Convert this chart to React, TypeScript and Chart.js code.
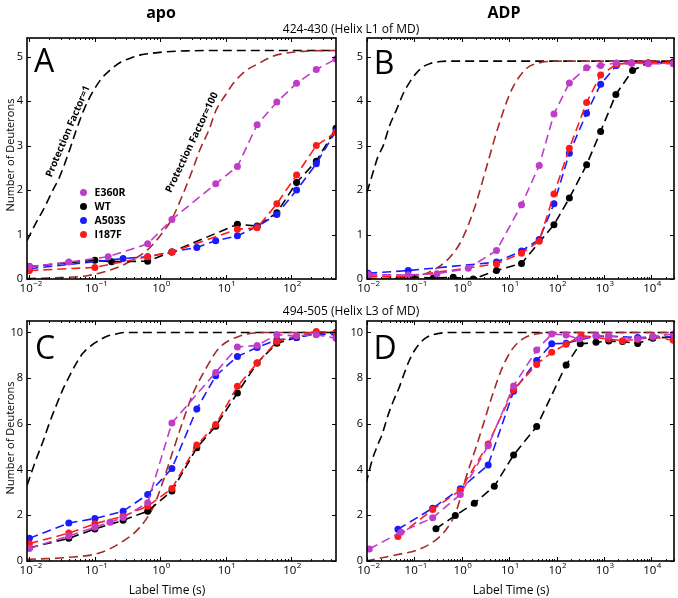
import React, { useEffect, useRef } from 'react';
import { Chart, registerables } from 'chart.js';
Chart.register(...registerables);

const W = 678;
const H = 598;
const FONT = "'Open Sans', 'DejaVu Sans', sans-serif";

type Pt = [number, number];

// ---------- colours ----------
const COL_E360R = '#c03cc8';
const COL_WT = '#000000';
const COL_A503S = '#1a1aff';
const COL_I187F = '#ff1a1a';
const COL_PF1 = '#000000';
const COL_PF100 = '#a52a2a';

// ---------- tick labels ----------
const APO_X_EXPONENTS = [-2, -1, 0, 1, 2];
const ADP_X_EXPONENTS = [-2, -1, 0, 1, 2, 3, 4];
const L1_Y_TICKS = [0, 1, 2, 3, 4, 5];
const L3_Y_TICKS = [0, 2, 4, 6, 8, 10];
const LEGEND_NAMES = ['E360R', 'WT', 'A503S', 'I187F'];

// ---------- Panel A : 424-430 apo ----------
const A_PF1: Pt[] = [[0.0092, 0.86], [0.0125, 1.25], [0.0162, 1.55], [0.022, 1.95], [0.029, 2.3], [0.04, 2.85], [0.052, 3.35], [0.07, 3.85], [0.093, 4.21], [0.125, 4.5], [0.168, 4.69], [0.25, 4.88], [0.34, 4.96], [0.5, 5.04], [0.77, 5.08], [1.2, 5.11], [2.5, 5.13], [10, 5.14], [480, 5.14]];
const A_PF100: Pt[] = [[0.0092, 0.01], [0.03, 0.03], [0.08, 0.08], [0.17, 0.2], [0.3, 0.35], [0.64, 0.66], [1, 0.98], [1.5, 1.35], [2.2, 1.9], [3, 2.4], [4, 2.9], [5.5, 3.35], [7, 3.78], [10, 4.15], [13, 4.4], [20, 4.68], [32, 4.85], [50, 5.0], [75, 5.07], [150, 5.12], [480, 5.14]];
const A_E360R: Pt[] = [[0.01, 0.28], [0.04, 0.38], [0.16, 0.5], [0.64, 0.79], [1.5, 1.34], [7, 2.14], [15, 2.53], [30, 3.47], [60, 3.98], [120, 4.4], [240, 4.71], [480, 4.95]];
const A_WT: Pt[] = [[0.01, 0.28], [0.1, 0.42], [0.18, 0.39], [0.64, 0.4], [1.5, 0.61], [15, 1.23], [30, 1.19], [60, 1.49], [120, 2.17], [240, 2.65], [480, 3.39]];
const A_A503S: Pt[] = [[0.01, 0.23], [0.27, 0.46], [0.64, 0.5], [1.5, 0.61], [3.6, 0.71], [7, 0.86], [15, 0.97], [30, 1.18], [60, 1.45], [120, 2.0], [240, 2.59], [480, 3.33]];
const A_I187F: Pt[] = [[0.01, 0.19], [0.1, 0.26], [0.64, 0.5], [1.5, 0.61], [15, 1.12], [30, 1.15], [60, 1.69], [120, 2.34], [240, 3.0], [480, 3.3]];

// ---------- Panel B : 424-430 ADP ----------
const B_PF1: Pt[] = [[0.01, 1.95], [0.013, 2.35], [0.017, 2.75], [0.022, 3.0], [0.03, 3.45], [0.042, 3.81], [0.06, 4.2], [0.081, 4.44], [0.11, 4.63], [0.155, 4.78], [0.22, 4.85], [0.35, 4.89], [0.6, 4.9], [30000, 4.9]];
const B_PF100: Pt[] = [[0.01, 0.0], [0.08, 0.04], [0.21, 0.16], [0.41, 0.35], [0.66, 0.58], [1.0, 0.88], [1.9, 1.63], [3.35, 2.53], [5.9, 3.43], [11.3, 4.26], [23.4, 4.74], [40, 4.85], [62, 4.89], [150, 4.9], [30000, 4.9]];
const B_E360R: Pt[] = [[0.0106, 0.1], [0.074, 0.09], [0.3, 0.12], [1.37, 0.24], [5.4, 0.64], [18.2, 1.67], [43, 2.55], [88, 3.71], [186, 4.41], [430, 4.75], [850, 4.8], [1830, 4.86], [3830, 4.86], [8600, 4.84], [29000, 4.84]];
const B_WT: Pt[] = [[0.0106, 0.06], [0.074, 0.05], [0.25, 0.02], [0.66, 0.04], [1.74, 0.0], [5.4, 0.19], [18.2, 0.35], [88, 1.22], [186, 1.82], [430, 2.57], [850, 3.32], [1780, 4.15], [4000, 4.69], [8600, 4.86], [29000, 4.88]];
const B_A503S: Pt[] = [[0.0106, 0.13], [0.074, 0.19], [5.4, 0.38], [18.2, 0.63], [43, 0.89], [88, 1.69], [186, 2.83], [430, 3.73], [850, 4.38], [1830, 4.8], [3830, 4.86], [8600, 4.86], [29000, 4.86]];
const B_I187F: Pt[] = [[0.0106, 0.06], [0.074, 0.06], [5.4, 0.34], [18.2, 0.58], [43, 0.85], [88, 1.91], [186, 2.94], [430, 3.97], [850, 4.59], [1830, 4.83], [3830, 4.86], [8600, 4.86], [29000, 4.86]];

// ---------- Panel C : 494-505 apo ----------
const C_PF1: Pt[] = [[0.0092, 3.3], [0.0125, 4.4], [0.0162, 5.24], [0.02, 6.0], [0.026, 6.84], [0.033, 7.55], [0.042, 8.15], [0.052, 8.65], [0.066, 9.1], [0.09, 9.45], [0.12, 9.68], [0.16, 9.85], [0.21, 9.93], [0.3, 10.0], [480, 10.0]];
const C_PF100: Pt[] = [[0.0092, 0.07], [0.036, 0.15], [0.12, 0.36], [0.27, 0.87], [0.48, 1.46], [0.77, 2.33], [1.1, 3.49], [1.55, 4.8], [2.2, 6.1], [3.1, 7.28], [5, 8.44], [7.9, 9.32], [16, 9.83], [40, 10.0], [480, 10.0]];
const C_E360R: Pt[] = [[0.01, 0.55], [0.04, 1.09], [0.1, 1.48], [0.17, 1.7], [0.27, 1.9], [0.64, 2.55], [1.5, 6.04], [7, 8.25], [15, 9.36], [30, 9.43], [60, 9.9], [120, 9.85], [240, 9.9], [480, 9.75]];
const C_WT: Pt[] = [[0.01, 0.58], [0.04, 0.99], [0.1, 1.4], [0.27, 1.78], [0.64, 2.18], [1.5, 3.06], [3.6, 4.95], [7, 5.9], [15, 7.35], [30, 8.66], [60, 9.53], [120, 9.78], [240, 9.97], [480, 10.0]];
const C_A503S: Pt[] = [[0.01, 0.99], [0.04, 1.66], [0.1, 1.86], [0.27, 2.18], [0.64, 2.91], [1.5, 4.05], [3.6, 6.65], [7, 8.1], [15, 8.95], [30, 9.34], [60, 9.67], [120, 9.78], [240, 9.93], [480, 9.9]];
const C_I187F: Pt[] = [[0.01, 0.76], [0.04, 1.22], [0.1, 1.63], [0.27, 1.96], [0.64, 2.4], [1.5, 3.17], [3.6, 5.07], [7, 5.97], [15, 7.64], [30, 8.66], [60, 9.6], [120, 9.85], [240, 10.04], [480, 10.0]];

// ---------- Panel D : 494-505 ADP ----------
const D_PF1: Pt[] = [[0.0095, 3.37], [0.013, 4.45], [0.017, 5.1], [0.021, 5.56], [0.028, 6.4], [0.036, 7.0], [0.048, 7.6], [0.062, 8.25], [0.078, 8.77], [0.1, 9.2], [0.127, 9.5], [0.18, 9.78], [0.243, 9.9], [0.4, 9.98], [0.8, 10.0], [30000, 10.0]];
const D_PF100: Pt[] = [[0.0095, 0.0], [0.049, 0.3], [0.108, 0.46], [0.243, 0.82], [0.46, 1.36], [0.75, 2.13], [1.23, 3.66], [2.0, 4.98], [3.0, 6.14], [4.5, 7.31], [7.2, 8.47], [11.7, 9.28], [21, 9.76], [37, 9.93], [70, 10.0], [30000, 10.0]];
const D_E360R: Pt[] = [[0.0112, 0.53], [0.052, 1.26], [0.243, 1.89], [0.93, 2.91], [3.6, 5.04], [12.4, 7.66], [38, 9.23], [79, 9.93], [159, 9.89], [300, 9.71], [680, 9.86], [1260, 9.84], [5140, 9.71], [10700, 9.83], [29000, 9.93]];
const D_WT: Pt[] = [[0.285, 1.41], [0.73, 1.99], [1.84, 2.53], [4.85, 3.27], [12.4, 4.64], [38, 5.88], [159, 8.58], [316, 9.5], [680, 9.57], [1260, 9.62], [2460, 9.6], [5140, 9.52], [10700, 9.75], [29000, 9.8]];
const D_A503S: Pt[] = [[0.045, 1.39], [0.243, 2.31], [0.93, 3.16], [3.6, 4.2], [12.4, 7.43], [38, 8.77], [79, 9.5], [159, 9.53], [680, 9.84], [1260, 9.84], [5140, 9.78], [10700, 9.8], [29000, 9.8]];
const D_I187F: Pt[] = [[0.045, 1.07], [0.243, 2.25], [0.93, 3.1], [3.6, 5.12], [12.4, 7.5], [38, 8.6], [79, 9.13], [159, 9.48], [330, 9.86], [1260, 9.71], [2460, 9.64], [5140, 9.7], [10700, 9.8], [29000, 9.66]];

// ---------- helpers ----------
const DASH = [9, 5];
const toXY = (pts: Pt[]) => pts.map(([x, y]) => ({ x, y }));

function curveDs(pts: Pt[], color: string) {
  return {
    data: toXY(pts),
    borderColor: color,
    borderWidth: 1.6,
    borderDash: DASH,
    pointRadius: 0,
    cubicInterpolationMode: 'monotone',
    fill: false,
  };
}

function seriesDs(pts: Pt[], color: string) {
  return {
    data: toXY(pts),
    borderColor: color,
    backgroundColor: color,
    borderWidth: 1.6,
    borderDash: DASH,
    pointRadius: 3.5,
    pointBorderWidth: 0,
    pointBackgroundColor: color,
    tension: 0,
    fill: false,
  };
}

const axesPlugin = {
  id: 'mplAxes',
  afterDatasetsDraw(chart: any) {
    const o = chart.options.plugins.mplAxes;
    const { ctx, chartArea: a } = chart;
    const xs = chart.scales.x;
    const ys = chart.scales.y;
    ctx.save();
    ctx.strokeStyle = '#000';
    ctx.fillStyle = '#000';
    ctx.lineWidth = 1;
    const e0 = Math.floor(Math.log10(xs.min));
    const e1 = Math.ceil(Math.log10(xs.max));
    for (let e = e0; e <= e1; e++) {
      for (let m = 1; m < 10; m++) {
        const v = m * Math.pow(10, e);
        if (v < xs.min || v > xs.max) continue;
        const px = Math.round(xs.getPixelForValue(v)) + 0.5;
        const len = m === 1 ? 4 : 2;
        ctx.beginPath();
        ctx.moveTo(px, a.bottom);
        ctx.lineTo(px, a.bottom - len);
        ctx.moveTo(px, a.top);
        ctx.lineTo(px, a.top + len);
        ctx.stroke();
      }
    }
    for (const v of o.yTicks) {
      const py = Math.round(ys.getPixelForValue(v)) + 0.5;
      ctx.beginPath();
      ctx.moveTo(a.left, py);
      ctx.lineTo(a.left + 4, py);
      ctx.moveTo(a.right, py);
      ctx.lineTo(a.right - 4, py);
      ctx.stroke();
    }
    ctx.lineWidth = 1.6;
    ctx.strokeRect(a.left, a.top, a.right - a.left, a.bottom - a.top);
    ctx.font = `11px ${FONT}`;
    ctx.textAlign = 'right';
    ctx.textBaseline = 'middle';
    for (const v of o.yTicks) {
      ctx.fillText(String(v), a.left - 4, ys.getPixelForValue(v));
    }
    ctx.textAlign = 'left';
    ctx.textBaseline = 'alphabetic';
    for (const e of o.xExps) {
      const px = xs.getPixelForValue(Math.pow(10, e));
      const es = e < 0 ? '\u2212' + String(-e) : String(e);
      ctx.font = `11.5px ${FONT}`;
      const w1 = ctx.measureText('10').width;
      ctx.font = `8px ${FONT}`;
      const w2 = ctx.measureText(es).width;
      const start = px - w1 / 2 - w2 * 0.35;
      ctx.font = `11.5px ${FONT}`;
      ctx.fillText('10', start, a.bottom + 13);
      ctx.font = `8px ${FONT}`;
      ctx.fillText(es, start + w1 + 0.5, a.bottom + 7);
    }
    ctx.restore();
  },
};

type PanelCfg = {
  area: [number, number, number, number];
  xMin: number;
  xMax: number;
  yMin: number;
  yMax: number;
  xExps: number[];
  yTicks: number[];
  pf1: Pt[];
  pf100: Pt[];
  e360r: Pt[];
  wt: Pt[];
  a503s: Pt[];
  i187f: Pt[];
};

const PANELS: PanelCfg[] = [
  { area: [27, 38, 336, 279], xMin: 0.0092, xMax: 480, yMin: 0, yMax: 5.42, xExps: APO_X_EXPONENTS, yTicks: L1_Y_TICKS, pf1: A_PF1, pf100: A_PF100, e360r: A_E360R, wt: A_WT, a503s: A_A503S, i187f: A_I187F },
  { area: [367, 38, 674, 279], xMin: 0.01, xMax: 30000, yMin: 0, yMax: 5.42, xExps: ADP_X_EXPONENTS, yTicks: L1_Y_TICKS, pf1: B_PF1, pf100: B_PF100, e360r: B_E360R, wt: B_WT, a503s: B_A503S, i187f: B_I187F },
  { area: [27, 321, 336, 561], xMin: 0.0092, xMax: 480, yMin: 0, yMax: 10.5, xExps: APO_X_EXPONENTS, yTicks: L3_Y_TICKS, pf1: C_PF1, pf100: C_PF100, e360r: C_E360R, wt: C_WT, a503s: C_A503S, i187f: C_I187F },
  { area: [367, 321, 674, 561], xMin: 0.01, xMax: 30000, yMin: 0, yMax: 10.5, xExps: ADP_X_EXPONENTS, yTicks: L3_Y_TICKS, pf1: D_PF1, pf100: D_PF100, e360r: D_E360R, wt: D_WT, a503s: D_A503S, i187f: D_I187F },
];

function buildConfig(p: PanelCfg): any {
  const [l, t, r, b] = p.area;
  return {
    type: 'line',
    data: {
      datasets: [
        seriesDs(p.e360r, COL_E360R),
        seriesDs(p.i187f, COL_I187F),
        seriesDs(p.a503s, COL_A503S),
        seriesDs(p.wt, COL_WT),
        curveDs(p.pf100, COL_PF100),
        curveDs(p.pf1, COL_PF1),
      ],
    },
    options: {
      responsive: false,
      maintainAspectRatio: false,
      animation: false,
      devicePixelRatio: 1,
      events: [],
      layout: { padding: { left: l, top: t, right: W - r, bottom: H - b } },
      plugins: {
        legend: { display: false },
        tooltip: { enabled: false },
        title: { display: false },
        mplAxes: { xExps: p.xExps, yTicks: p.yTicks },
      },
      scales: {
        x: { type: 'logarithmic', min: p.xMin, max: p.xMax, display: false },
        y: { type: 'linear', min: p.yMin, max: p.yMax, display: false },
      },
    },
    plugins: [axesPlugin],
  };
}

function Panel({ cfg }: { cfg: PanelCfg }) {
  const ref = useRef<HTMLCanvasElement>(null);
  useEffect(() => {
    const chart = new Chart(ref.current as HTMLCanvasElement, buildConfig(cfg));
    return () => chart.destroy();
  }, [cfg]);
  return (
    <canvas
      ref={ref}
      width={W}
      height={H}
      style={{ position: 'absolute', left: 0, top: 0, width: W, height: H }}
    />
  );
}

function Txt(props: { x: number; y: number; size: number; bold?: boolean; rot?: number; children: React.ReactNode }) {
  const { x, y, size, bold, rot, children } = props;
  return (
    <div
      style={{
        position: 'absolute',
        left: x,
        top: y,
        transform: `translate(-50%, -50%) rotate(${rot || 0}deg)`,
        fontSize: size,
        fontWeight: bold ? 700 : 400,
        fontFamily: FONT,
        lineHeight: 1,
        whiteSpace: 'nowrap',
        color: '#000',
      }}
    >
      {children}
    </div>
  );
}

const LEGEND_COLORS = [COL_E360R, COL_WT, COL_A503S, COL_I187F];

export default function App() {
  return (
    <div style={{ position: 'fixed', left: 0, top: 0, width: W, height: H, background: '#fff', overflow: 'hidden', fontFamily: FONT }}>
      {PANELS.map((p, i) => (
        <Panel key={i} cfg={p} />
      ))}
      <Txt x={161} y={12} size={16} bold>apo</Txt>
      <Txt x={504} y={12} size={16} bold>ADP</Txt>
      <Txt x={351} y={29} size={12}>424-430 (Helix L1 of MD)</Txt>
      <Txt x={351} y={311} size={12}>494-505 (Helix L3 of MD)</Txt>
      <Txt x={9} y={155} size={11} rot={-90}>Number of Deuterons</Txt>
      <Txt x={9} y={438} size={11} rot={-90}>Number of Deuterons</Txt>
      <Txt x={167} y={590} size={12}>Label Time (s)</Txt>
      <Txt x={511} y={590} size={12}>Label Time (s)</Txt>
      <Txt x={44} y={60} size={32}>A</Txt>
      <Txt x={384} y={62} size={32}>B</Txt>
      <Txt x={45} y={347} size={32}>C</Txt>
      <Txt x={385} y={347} size={32}>D</Txt>
      <Txt x={67} y={131} size={10} bold rot={-67}>Protection Factor=1</Txt>
      <Txt x={191} y={142} size={10} bold rot={-64.5}>Protection Factor=100</Txt>
      {LEGEND_NAMES.map((name, i) => (
        <div key={name} style={{ position: 'absolute', left: 79.5, top: 192 + i * 14 - 3.5, display: 'flex', alignItems: 'center' }}>
          <div style={{ width: 7, height: 7, borderRadius: '50%', background: LEGEND_COLORS[i] }} />
          <div style={{ marginLeft: 8, fontSize: 10.5, fontWeight: 700, fontFamily: FONT, lineHeight: '7px', whiteSpace: 'nowrap' }}>{name}</div>
        </div>
      ))}
    </div>
  );
}
